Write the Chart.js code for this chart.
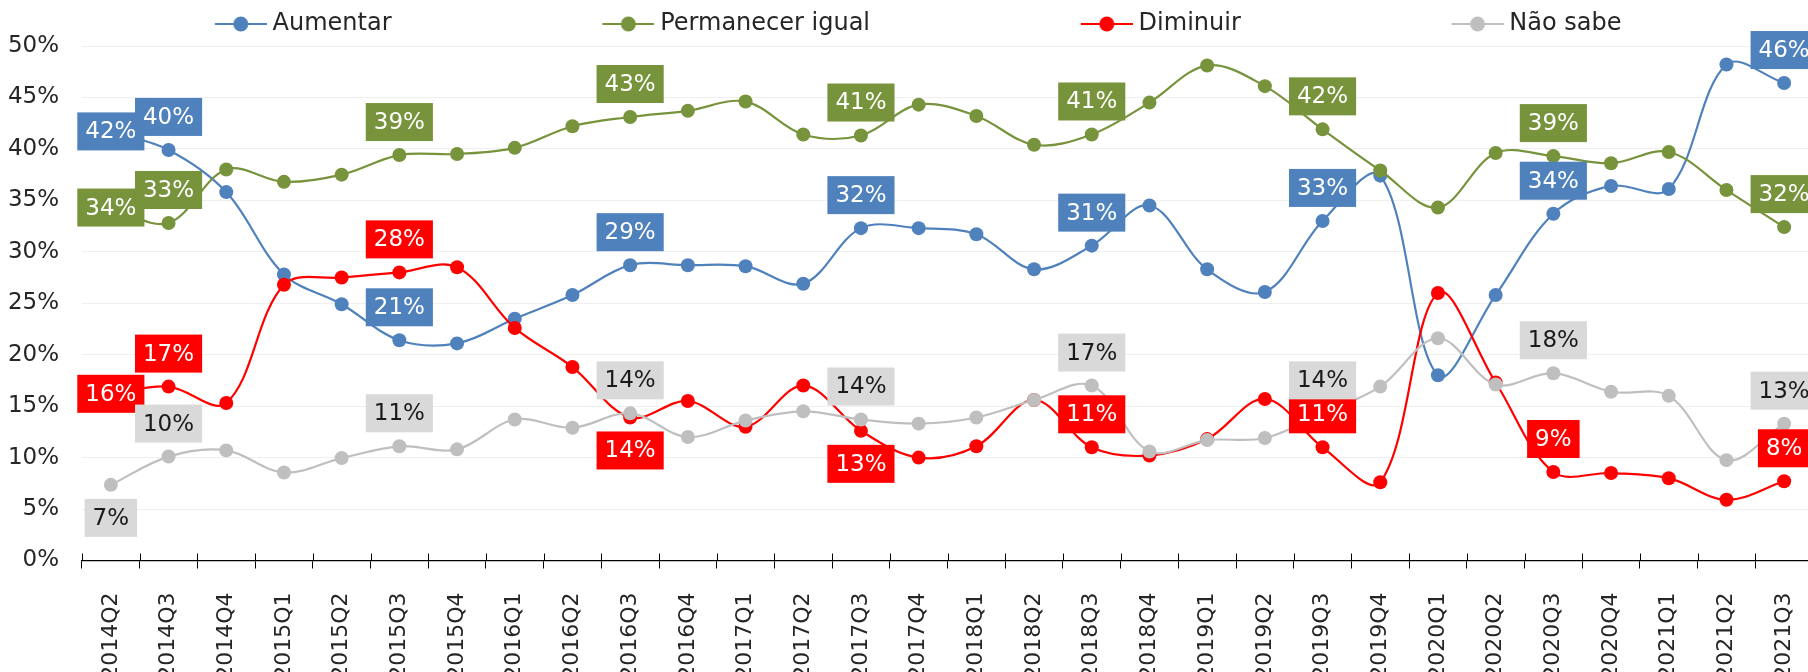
<!DOCTYPE html>
<html>
<head>
<meta charset="utf-8">
<script src="https://cdn.jsdelivr.net/npm/chart.js@4.4.1/dist/chart.umd.min.js"></script>
<style>
  html, body { margin: 0; padding: 0; background: #ffffff; overflow: hidden; }
  #wrap { width: 1820px; height: 690px; }
</style>
</head>
<body>
<div id="wrap"><canvas id="chart" width="1820" height="690"></canvas></div>
<script>
// Quarters on the category axis
const quarters = [
  '2014Q2', '2014Q3', '2014Q4', '2015Q1', '2015Q2', '2015Q3', '2015Q4',
  '2016Q1', '2016Q2', '2016Q3', '2016Q4', '2017Q1', '2017Q2', '2017Q3',
  '2017Q4', '2018Q1', '2018Q2', '2018Q3', '2018Q4', '2019Q1', '2019Q2',
  '2019Q3', '2019Q4', '2020Q1', '2020Q2', '2020Q3', '2020Q4', '2021Q1',
  '2021Q2', '2021Q3'
];

// Share of answers per quarter (%)
const aumentar = [41.7, 39.9, 35.8, 27.8, 24.9, 21.4, 21.1, 23.5, 25.8, 28.7, 28.7, 28.6, 26.9, 32.3, 32.3,
                  31.7, 28.3, 30.6, 34.5, 28.3, 26.1, 33.0, 37.4, 18.0, 25.8, 33.7, 36.4, 36.1, 48.2, 46.4];
const permanecer = [34.3, 32.8, 38.0, 36.8, 37.5, 39.4, 39.5, 40.1, 42.2, 43.1, 43.7, 44.6, 41.4, 41.3, 44.3,
                    43.2, 40.4, 41.4, 44.5, 48.1, 46.1, 41.9, 37.9, 34.3, 39.6, 39.3, 38.6, 39.7, 36.0, 32.4];
const diminuir = [16.2, 16.9, 15.3, 26.8, 27.5, 28.0, 28.5, 22.6, 18.8, 13.9, 15.5, 13.0, 17.0, 12.6, 10.0,
                  11.1, 15.6, 11.0, 10.2, 11.8, 15.7, 11.0, 7.6, 26.0, 17.3, 8.6, 8.5, 8.0, 5.9, 7.7];
const naoSabe = [7.35, 10.1, 10.7, 8.55, 9.95, 11.1, 10.8, 13.7, 12.9, 14.3, 12.0, 13.6, 14.5, 13.7, 13.3,
                 13.9, 15.6, 17.0, 10.6, 11.7, 11.9, 14.3, 16.9, 21.6, 17.1, 18.2, 16.4, 16.0, 9.75, 13.3];

// Value axis ticks
const yTicks = [0, 5, 10, 15, 20, 25, 30, 35, 40, 45, 50];

// Quarters that carry a value label, and where each series puts it
const labelAt = [0, 1, 5, 9, 13, 17, 21, 25, 29];
const aumentarPlace   = ['center', 'above', 'above', 'above', 'above', 'above', 'above', 'above', 'above'];
const permanecerPlace = ['center', 'above', 'above', 'above', 'above', 'above', 'above', 'above', 'above'];
const diminuirPlace   = ['center', 'above', 'above', 'below', 'below', 'above', 'above', 'above', 'above'];
const naoSabePlace    = ['below',  'above', 'above', 'above', 'above', 'above', 'above', 'above', 'above'];

const FONT = 'DejaVu Sans';
const TEXT = '#262626';
const BLUE = '#4F81BD', GREEN = '#77933C', RED = '#FF0000', GREY = '#BFBFBF';

// Legend marker: short line with a dot, padded on the left so items spread out
const PAD_LEFT = 4;
const LEGEND_BOX = 246.6;
function legendMark(color) {
  const w = Math.round(LEGEND_BOX + 12.8);
  const c = document.createElement('canvas');
  c.width = w; c.height = 20;
  const g = c.getContext('2d');
  g.strokeStyle = color; g.lineWidth = 2.2;
  g.beginPath(); g.moveTo(w - 52, 10); g.lineTo(w, 10); g.stroke();
  g.fillStyle = color;
  g.beginPath(); g.arc(w - 26, 10, 7.5, 0, Math.PI * 2); g.fill();
  return c;
}

// Boxed value labels above / below / on the points
const valueLabels = {
  id: 'valueLabels',
  afterDatasetsDraw(chart) {
    const ctx = chart.ctx;
    ctx.save();
    ctx.font = '23px "' + FONT + '"';
    ctx.textAlign = 'center';
    ctx.textBaseline = 'middle';
    chart.data.datasets.forEach((ds, di) => {
      const meta = chart.getDatasetMeta(di);
      ds.labelPlaces.forEach((place, k) => {
        const i = labelAt[k];
        const pt = meta.data[i];
        const text = Math.round(ds.data[i]) + '%';
        const w = ctx.measureText(text).width + 16;
        const h = 38;
        let cy = pt.y;
        if (place === 'above') cy = pt.y - 14 - h / 2;
        if (place === 'below') cy = pt.y + 14 + h / 2;
        ctx.fillStyle = ds.labelFill;
        ctx.fillRect(pt.x - w / 2, cy - h / 2, w, h);
        ctx.fillStyle = ds.labelColor;
        ctx.fillText(text, pt.x, cy + 1);
      });
    });
    ctx.restore();
  }
};

// Category tick marks crossing the axis line (upper half)
const crossTicks = {
  id: 'crossTicks',
  beforeDatasetsDraw(chart) {
    const xs = chart.scales.x;
    const bottom = chart.chartArea.bottom;
    const ctx = chart.ctx;
    ctx.save();
    ctx.strokeStyle = '#000';
    ctx.lineWidth = 1;
    ctx.beginPath();
    for (let i = 0; i <= quarters.length; i++) {
      const px = Math.round(xs.getPixelForValue(i - 0.5)) + 0.5;
      ctx.moveTo(px, bottom - 7);
      ctx.lineTo(px, bottom);
    }
    ctx.stroke();
    ctx.restore();
  }
};

function series(label, data, color, order, places, fill, textColor) {
  return {
    label, data, order,
    borderColor: color, backgroundColor: color,
    pointBackgroundColor: color, pointBorderColor: color,
    borderWidth: 2.2, pointRadius: 7, pointBorderWidth: 0, pointHoverRadius: 7,
    tension: 0.35, fill: false,
    labelPlaces: places, labelFill: fill, labelColor: textColor
  };
}

const marks = [legendMark(BLUE), legendMark(GREEN), legendMark(RED), legendMark(GREY)];

new Chart(document.getElementById('chart'), {
  type: 'line',
  data: {
    labels: quarters,
    datasets: [
      series('Aumentar', aumentar, BLUE, 4, aumentarPlace, BLUE, '#ffffff'),
      series('Permanecer igual', permanecer, GREEN, 3, permanecerPlace, GREEN, '#ffffff'),
      series('Diminuir', diminuir, RED, 2, diminuirPlace, RED, '#ffffff'),
      series('Não sabe', naoSabe, GREY, 1, naoSabePlace, '#D9D9D9', '#1a1a1a')
    ]
  },
  options: {
    responsive: false,
    animation: false,
    events: [],
    layout: { padding: { left: PAD_LEFT, right: 4, top: 2, bottom: 0 } },
    plugins: {
      tooltip: { enabled: false },
      legend: {
        position: 'top',
        align: 'start',
        labels: {
          usePointStyle: true,
          pointStyleWidth: LEGEND_BOX,
          padding: 10,
          color: TEXT,
          font: { family: FONT, size: 24 },
          sort: (a, b) => a.datasetIndex - b.datasetIndex,
          generateLabels(chart) {
            const items = Chart.defaults.plugins.legend.labels.generateLabels(chart);
            items.forEach(it => { it.pointStyle = marks[it.datasetIndex]; });
            return items;
          }
        }
      }
    },
    scales: {
      x: {
        type: 'category',
        offset: true,
        grid: { offset: true, drawOnChartArea: false, drawTicks: true, tickLength: 8, color: '#000', lineWidth: 1 },
        border: { display: true, color: '#000', width: 1.3 },
        ticks: { autoSkip: false, minRotation: 90, maxRotation: 90, padding: 24, color: TEXT,
                 font: { family: FONT, size: 22 } },
        afterFit(s) { s.height = 690 - 560.5; s.paddingLeft = 0; s.paddingRight = 0; }
      },
      y: {
        min: yTicks[0],
        max: yTicks[yTicks.length - 1],
        afterBuildTicks(s) { s.ticks = yTicks.map(v => ({ value: v })); },
        ticks: { padding: 23, color: TEXT, font: { family: FONT, size: 23 }, callback: v => v + '%' },
        grid: { color: '#EFEFEF', drawTicks: false, lineWidth: 1 },
        border: { display: false },
        afterFit(s) { s.width = 82 - PAD_LEFT; s.paddingTop = 0; s.paddingBottom = 0; }
      }
    }
  },
  plugins: [crossTicks, valueLabels]
});
</script>
</body>
</html>
